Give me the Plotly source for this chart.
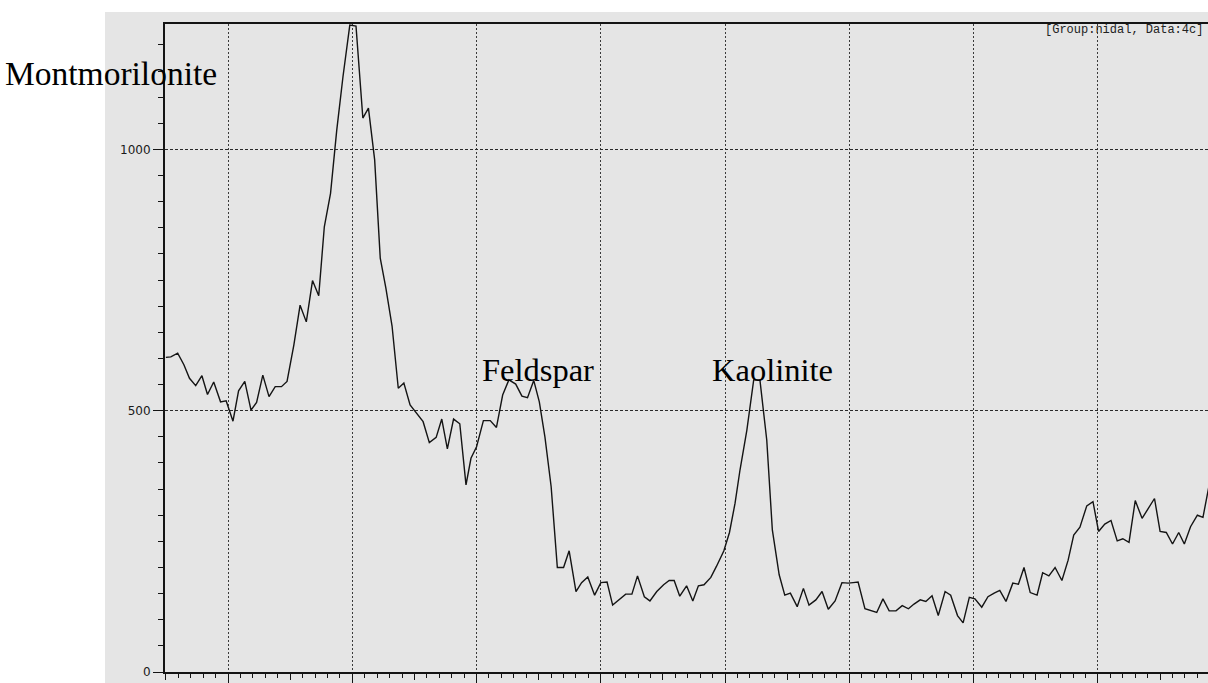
import plotly.graph_objects as go

# Scan angle (degrees 2-theta) and detector counts
two_theta = [
    3.00, 3.08, 3.19, 3.29, 3.38, 3.48, 3.58, 3.67, 3.77, 3.88,
    3.97, 4.08, 4.17, 4.27, 4.37, 4.46, 4.56, 4.66, 4.76, 4.86,
    4.95, 5.06, 5.16, 5.26, 5.36, 5.46, 5.55, 5.65, 5.75, 5.85,
    5.96, 6.06, 6.17, 6.26, 6.36, 6.45, 6.54, 6.64, 6.74, 6.83,
    6.93, 7.04, 7.14, 7.24, 7.35, 7.44, 7.53, 7.63, 7.73, 7.83,
    7.91, 8.00, 8.11, 8.22, 8.32, 8.42, 8.52, 8.63, 8.73, 8.82,
    8.92, 9.01, 9.10, 9.20, 9.30, 9.40, 9.49, 9.60, 9.69, 9.79,
    9.90, 10.00, 10.10, 10.19, 10.30, 10.40, 10.50, 10.59, 10.70, 10.79,
    10.90, 11.01, 11.10, 11.18, 11.27, 11.38, 11.48, 11.57, 11.66, 11.77,
    11.86, 11.98, 12.07, 12.16, 12.24, 12.35, 12.46, 12.56, 12.67, 12.76,
    12.87, 12.96, 13.05, 13.16, 13.26, 13.35, 13.46, 13.56, 13.66, 13.77,
    13.88, 13.98, 14.06, 14.14, 14.25, 14.34, 14.44, 14.54, 14.64, 14.75,
    14.85, 14.95, 15.04, 15.14, 15.23, 15.33, 15.43, 15.54, 15.63, 15.74,
    15.83, 15.93, 16.02, 16.13, 16.23, 16.33, 16.42, 16.52, 16.63, 16.72,
    16.81, 16.91, 17.02, 17.11, 17.21, 17.31, 17.42, 17.52, 17.61, 17.71,
    17.82, 17.92, 18.01, 18.11, 18.21, 18.31, 18.40, 18.50, 18.60, 18.71,
    18.80, 18.91, 19.00, 19.10, 19.20, 19.30, 19.39, 19.49, 19.60, 19.69,
    19.78, 19.88,
]
counts = [
    602, 603, 610, 588, 562, 548, 567, 531, 555, 517,
    519, 480, 538, 556, 501, 516, 568, 527, 546, 546,
    556, 626, 702, 670, 749, 720, 852, 916, 1037, 1139,
    1238, 1236, 1060, 1079, 980, 792, 735, 662, 543, 553,
    511, 495, 479, 439, 449, 484, 427, 484, 475, 358,
    409, 431, 481, 481, 468, 530, 559, 551, 528, 525,
    558, 517, 450, 355, 200, 200, 232, 154, 171, 182,
    147, 171, 172, 128, 139, 149, 149, 184, 144, 136,
    154, 167, 175, 175, 145, 165, 136, 165, 167, 181,
    202, 232, 267, 323, 387, 463, 559, 559, 444, 272,
    186, 147, 151, 125, 160, 128, 138, 154, 120, 136,
    171, 170, 171, 172, 121, 117, 114, 140, 117, 117,
    127, 121, 130, 138, 135, 146, 108, 154, 147, 108,
    94, 143, 140, 124, 144, 151, 156, 135, 170, 168,
    200, 152, 147, 190, 184, 200, 175, 214, 262, 277,
    318, 326, 269, 283, 290, 251, 255, 248, 328, 294,
    312, 332, 269, 267, 245, 267, 245, 278, 300, 296,
    352, 400,
]

# Phase labels: name, 2-theta of left edge, counts at text centre
phase_names = ["Feldspar", "Kaolinite"]
phase_x = [8.05, 11.75]
phase_y = [578, 578]

x_range = [2.986, 19.771]
y_range = [0, 1240]
y_ticks = [0, 500, 1000]
grid_angles = [4, 6, 8, 10, 12, 14, 16, 18]
odd_angles = [3, 5, 7, 9, 11, 13, 15, 17, 19]

paper_gray = "#e5e5e5"
ink = "#141414"

fig = go.Figure()

fig.add_trace(go.Scatter(
    x=two_theta, y=counts, mode="lines",
    line=dict(color=ink, width=1.4),
    hoverinfo="skip", showlegend=False,
))

# invisible trace carrying the secondary x axis (odd-degree ticks)
fig.add_trace(go.Scatter(
    x=[x_range[0]], y=[0], xaxis="x2", mode="markers",
    marker=dict(opacity=0), hoverinfo="skip", showlegend=False,
))

fig.update_layout(
    width=1208, height=683,
    margin=dict(l=165, r=0, t=24, b=11),
    paper_bgcolor="white",
    plot_bgcolor=paper_gray,
    showlegend=False,
    xaxis=dict(
        range=x_range, showticklabels=False,
        tickmode="array", tickvals=grid_angles,
        ticks="outside", ticklen=11, tickwidth=1, tickcolor=ink,
        showgrid=True, gridcolor="#3a3a3a", griddash="2px,2px", gridwidth=1,
        showline=True, linecolor=ink, linewidth=1.8, mirror=True,
        zeroline=False,
        minor=dict(dtick=0.2, tick0=3, ticks="outside", ticklen=4,
                   tickcolor=ink, tickwidth=1, showgrid=False),
    ),
    xaxis2=dict(
        overlaying="x", matches="x", side="bottom", range=x_range,
        tickmode="array", tickvals=odd_angles, showticklabels=False,
        ticks="outside", ticklen=7, tickwidth=1, tickcolor=ink,
        showgrid=False, showline=False, zeroline=False,
    ),
    yaxis=dict(
        range=y_range, tickmode="array", tickvals=y_ticks,
        ticks="outside", ticklen=10, tickwidth=1, tickcolor=ink,
        tickfont=dict(family="DejaVu Sans", size=12, color="#1a1a1a"),
        showgrid=True, gridcolor="#2a2a2a", griddash="3px,2px", gridwidth=1,
        showline=True, linecolor=ink, linewidth=2,
        zeroline=False,
        minor=dict(dtick=50, ticks="outside", ticklen=5,
                   tickcolor=ink, tickwidth=1, showgrid=False),
    ),
)

# scanned sheet behind the chart
fig.add_shape(
    type="rect", xref="paper", yref="paper",
    x0=-0.0575, x1=1.01, y0=-0.02, y1=1.0185,
    fillcolor=paper_gray, line=dict(width=0), layer="below",
)

fig.add_annotation(
    text="Montmorilonite", xref="paper", yref="paper",
    x=(3 - 165) / 1043, y=1 - (73 - 24) / 648,
    xanchor="left", yanchor="middle", showarrow=False,
    font=dict(family="Liberation Serif", size=33.5, color="black"),
)
for name, px, py in zip(phase_names, phase_x, phase_y):
    fig.add_annotation(
        text=name, x=px, y=py, xref="x", yref="y",
        xanchor="left", yanchor="middle", showarrow=False,
        font=dict(family="Liberation Serif", size=32.5, color="black"),
    )

fig.add_annotation(
    text="[Group:nidal, Data:4c]", xref="paper", yref="paper",
    x=0.997, y=1 - (30 - 24) / 648, xanchor="right", yanchor="middle",
    showarrow=False,
    font=dict(family="Liberation Mono", size=12, color="#222222"),
)

fig.write_html("out.html")
